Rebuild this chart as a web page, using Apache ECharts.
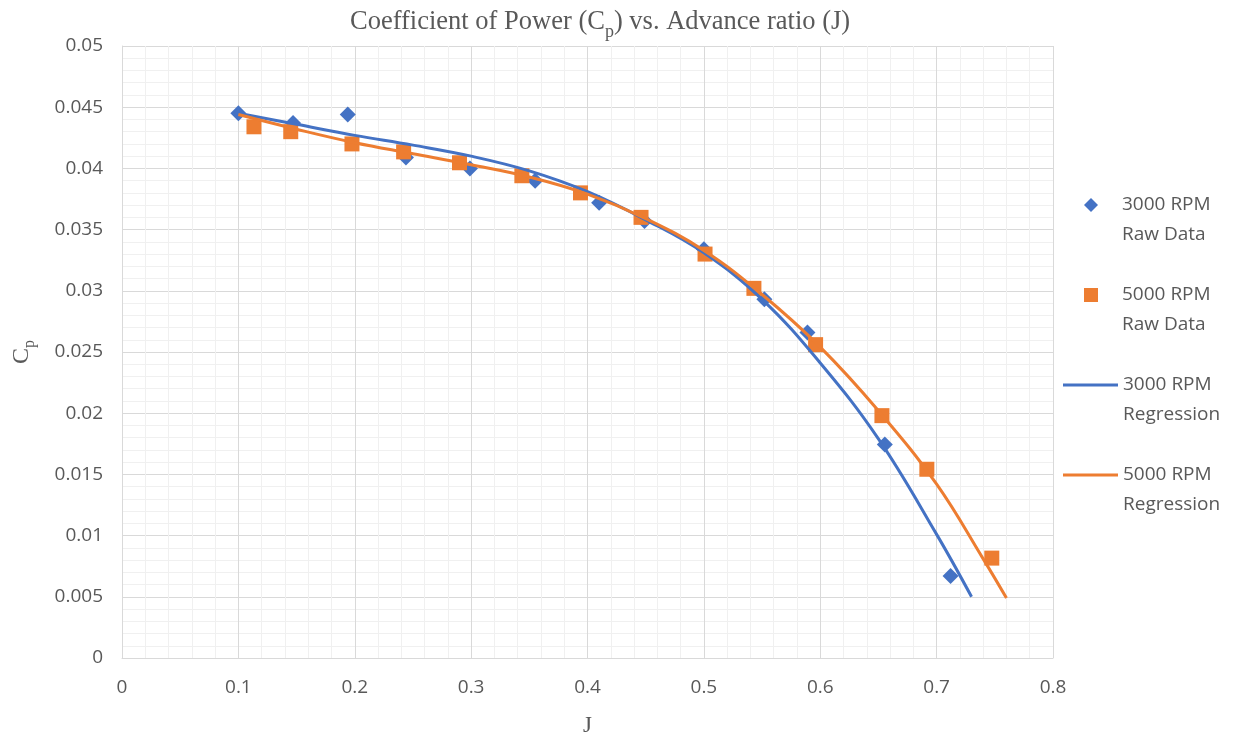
<!DOCTYPE html>
<html>
<head>
<meta charset="utf-8">
<script src="https://cdn.jsdelivr.net/npm/echarts@6/dist/echarts.min.js"></script>
<style>
html,body{margin:0;padding:0;background:#fff;}
#main{width:1239px;height:742px;}
</style>
</head>
<body>
<div id="main"></div>
<script>
// Raw data 3000 RPM
const j3000 = [0.100, 0.147, 0.194, 0.244, 0.299, 0.355, 0.410, 0.449, 0.500, 0.552, 0.589, 0.6555, 0.712];
const cp3000 = [0.0445, 0.0437, 0.0444, 0.0409, 0.0400, 0.0390, 0.0372, 0.0357, 0.0334, 0.0293, 0.0266, 0.01745, 0.0067];
// Raw data 5000 RPM
const j5000 = [0.1134, 0.145, 0.1976, 0.242, 0.290, 0.3436, 0.394, 0.446, 0.501, 0.543, 0.596, 0.653, 0.6916, 0.7474];
const cp5000 = [0.0434, 0.0430, 0.0420, 0.04135, 0.04046, 0.0394, 0.0380, 0.0360, 0.0330, 0.0302, 0.0256, 0.0198, 0.01542, 0.00816];
// Regression curves
const regJ3000 = [0.10, 0.15, 0.20, 0.25, 0.30, 0.35, 0.40, 0.45, 0.50, 0.55, 0.60, 0.65, 0.70, 0.73];
const regCp3000 = [0.0445, 0.0436, 0.0427, 0.0419, 0.0410, 0.0398, 0.0381, 0.0358, 0.0331, 0.0293, 0.0241, 0.0179, 0.0101, 0.0050];
const regJ5000 = [0.10, 0.15, 0.20, 0.25, 0.30, 0.35, 0.40, 0.45, 0.50, 0.55, 0.60, 0.65, 0.70, 0.74, 0.76];
const regCp5000 = [0.0444, 0.0432, 0.0421, 0.0412, 0.0403, 0.0393, 0.0379, 0.0359, 0.0333, 0.0297, 0.0254, 0.0202, 0.0142, 0.0081, 0.0049];

const xTicks = { min: 0, max: 0.8, interval: 0.1 };
const yTicks = { min: 0, max: 0.05, interval: 0.005 };

const names = ['3000 RPM\nRaw Data', '5000 RPM\nRaw Data', '3000 RPM\nRegression', '5000 RPM\nRegression'];
const blue = '#4472C4', orange = '#ED7D31';
const txt = '#595959';

const zip = (a, b) => a.map((v, i) => [v, b[i]]);

const chart = echarts.init(document.getElementById('main'), null, { renderer: 'canvas' });
const legendText = { color: txt, fontFamily: 'Open Sans', fontSize: 19, lineHeight: 30 };
chart.setOption({
  backgroundColor: '#fff',
  animation: false,
  title: {
    text: '{a|Coefficient of Power (C}{s|p}{a|) vs. Advance ratio (J)}',
    left: 345, top: 2,
    textStyle: {
      fontWeight: 'normal',
      rich: {
        a: { fontFamily: 'Liberation Serif', fontSize: 26.5, fontWeight: 'normal', color: txt, lineHeight: 34, verticalAlign: 'bottom', padding: [0, 0, 5, 0] },
        s: { fontFamily: 'Liberation Serif', fontSize: 18, fontWeight: 'normal', color: txt, lineHeight: 34, verticalAlign: 'bottom' }
      }
    }
  },
  grid: { left: 122, right: 186, top: 46, bottom: 83, containLabel: false },
  legend: [
    {
      data: [names[0], names[1]], orient: 'vertical', left: 1084, top: 160, padding: 0,
      itemWidth: 14, itemHeight: 14, itemGap: 0,
      formatter: n => '\n' + n,
      itemStyle: { opacity: 1 },
      textStyle: Object.assign({}, legendText, { padding: [0, 0, 0, 19] }),
    },
    {
      data: [
        { name: names[2], icon: 'rect' },
        { name: names[3], icon: 'rect' }
      ],
      orient: 'vertical', left: 1063, top: 340, padding: 0,
      itemWidth: 55, itemHeight: 3, itemGap: 0,
      formatter: n => '\n' + n,
      textStyle: legendText,
    }
  ],
  xAxis: {
    type: 'value', min: xTicks.min, max: xTicks.max, interval: xTicks.interval,
    name: 'J', nameLocation: 'middle', nameGap: 56,
    nameTextStyle: { fontFamily: 'Liberation Serif', fontSize: 23, color: txt },
    axisLine: { show: true, lineStyle: { color: '#d9d9d9' } },
    axisTick: { show: false },
    axisLabel: { color: txt, fontFamily: 'Open Sans', fontSize: 19, margin: 20 },
    splitLine: { show: true, lineStyle: { color: '#d9d9d9', width: 1 } },
    minorTick: { show: false, splitNumber: 5 },
    minorSplitLine: { show: true, lineStyle: { color: '#f0f0f0', width: 1 } }
  },
  yAxis: {
    type: 'value', min: yTicks.min, max: yTicks.max, interval: yTicks.interval,
    name: '{a|C}{s|p}', nameLocation: 'middle', nameGap: 84, nameRotate: 90,
    nameTextStyle: {
      rich: {
        a: { fontFamily: 'Liberation Serif', fontSize: 24, color: txt, lineHeight: 30, verticalAlign: 'bottom', padding: [0, 0, 4, 0] },
        s: { fontFamily: 'Liberation Serif', fontSize: 16, color: txt, lineHeight: 30, verticalAlign: 'bottom' }
      }
    },
    axisLine: { show: true, lineStyle: { color: '#d9d9d9' } },
    axisTick: { show: false },
    axisLabel: { color: txt, fontFamily: 'Open Sans', fontSize: 19, margin: 19 },
    splitLine: { show: true, lineStyle: { color: '#d9d9d9', width: 1 } },
    minorTick: { show: false, splitNumber: 5 },
    minorSplitLine: { show: true, lineStyle: { color: '#f0f0f0', width: 1 } }
  },
  series: [
    { name: names[0], type: 'scatter', data: zip(j3000, cp3000), symbol: 'diamond', symbolSize: 16, itemStyle: { color: blue, opacity: 1 }, z: 2 },
    { name: names[1], type: 'scatter', data: zip(j5000, cp5000), symbol: 'rect', symbolSize: 15, itemStyle: { color: orange, opacity: 1 }, z: 3 },
    { name: names[2], type: 'line', data: zip(regJ3000, regCp3000), smooth: 0.4, symbol: 'none', lineStyle: { color: blue, width: 3 }, itemStyle: { color: blue }, z: 4 },
    { name: names[3], type: 'line', data: zip(regJ5000, regCp5000), smooth: 0.4, symbol: 'none', lineStyle: { color: orange, width: 3 }, itemStyle: { color: orange }, z: 5 }
  ]
});
</script>
</body>
</html>
